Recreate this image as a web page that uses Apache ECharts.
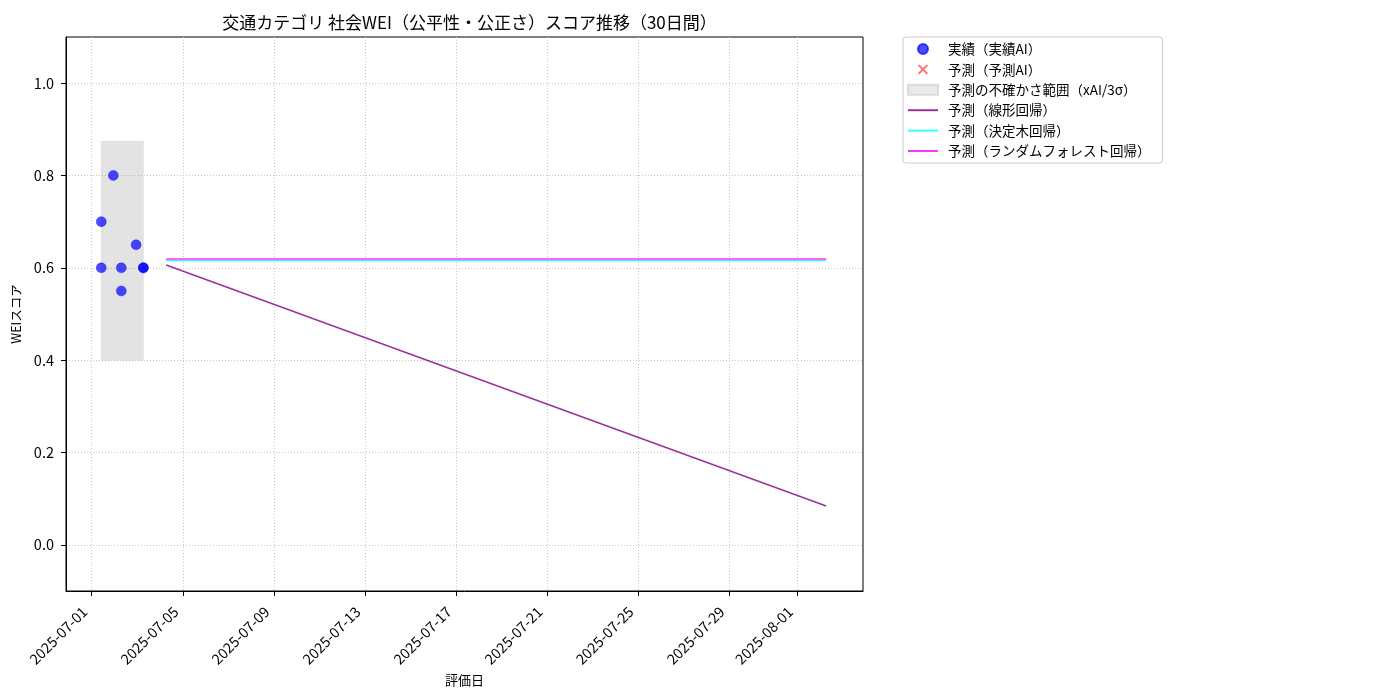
<!DOCTYPE html>
<html>
<head>
<meta charset="utf-8">
<script src="https://cdn.jsdelivr.net/npm/echarts@6/dist/echarts.min.js"></script>
<style>html,body{margin:0;padding:0;background:#fff}#c{width:1400px;height:700px}</style>
</head>
<body>
<div id="c"></div>
<script>
// ---- data ----
const actualDates = ['2025-07-01 10:05','2025-07-01 10:05','2025-07-01 22:48','2025-07-02 07:12','2025-07-02 07:12','2025-07-02 22:48','2025-07-03 06:29','2025-07-03 06:29'];
const actualScores = [0.70, 0.60, 0.80, 0.60, 0.55, 0.65, 0.60, 0.60];
const bandDates = ['2025-07-01 10:05','2025-07-03 06:29'];
const bandRange = [0.400, 0.874];
const forecastDates = ['2025-07-04 06:30','2025-08-02 06:30'];
const linearValues = [0.606, 0.084];
const treeValues = [0.616, 0.616];
const forestValues = [0.619, 0.619];
const predictAIDates = [];
const predictAIValues = [];
const xTickLabels = ['2025-07-01','2025-07-05','2025-07-09','2025-07-13','2025-07-17','2025-07-21','2025-07-25','2025-07-29','2025-08-01'];
const yTickValues = [0.0, 0.2, 0.4, 0.6, 0.8, 1.0];
const xRange = ['2025-06-29 20:53','2025-08-03 21:20'];
const yRange = [-0.1, 1.1];

const t = s => +new Date(s.length <= 10 ? s + 'T00:00' : s.replace(' ', 'T'));
const pad = n => (n < 10 ? '0' : '') + n;
const fmt = v => { const d = new Date(v); return d.getFullYear() + '-' + pad(d.getMonth() + 1) + '-' + pad(d.getDate()); };
const pairs = (ds, vs) => ds.map((d, i) => [t(d), vs[i]]);

const FONT = '"Noto Sans CJK JP", "Noto Sans", sans-serif';
const xTicks = xTickLabels.map(t);
const XPATH = 'path://M0,1.6 L1.6,0 L6,4.4 L10.4,0 L12,1.6 L7.6,6 L12,10.4 L10.4,12 L6,7.6 L1.6,12 L0,10.4 L4.4,6 Z';
const LINEICON = 'path://M0,0 M0,4 L30,4 L30,6 L0,6 Z M30,10';

const chart = echarts.init(document.getElementById('c'));
chart.setOption({
  animation: false,
  backgroundColor: '#fff',
  textStyle: { fontFamily: FONT, color: '#000' },
  title: {
    text: '交通カテゴリ 社会WEI（公平性・公正さ）スコア推移（30日間）',
    left: 464.5, textAlign: 'center', top: 9,
    textStyle: { fontFamily: FONT, fontSize: 17, fontWeight: 'normal', color: '#000' }
  },
  grid: { left: 66, top: 37, width: 797, height: 554, show: true, borderColor: '#000', borderWidth: 1, backgroundColor: 'transparent' },
  legend: {
    orient: 'vertical', left: 903, top: 37,
    padding: [5, 12, 5, 4],
    itemWidth: 30, itemHeight: 10, itemGap: 6.4,
    borderColor: '#cccccc', borderWidth: 1, borderRadius: 3,
    textStyle: { fontFamily: FONT, fontSize: 13.5, color: '#000', lineHeight: 14, padding: [0, 0, 0, 5] },
    data: [
      { name: '実績（実績AI）', icon: 'circle' },
      { name: '予測（予測AI）', icon: XPATH },
      { name: '予測の不確かさ範囲（xAI/3σ）', icon: 'rect' },
      { name: '予測（線形回帰）', icon: LINEICON },
      { name: '予測（決定木回帰）', icon: LINEICON },
      { name: '予測（ランダムフォレスト回帰）', icon: LINEICON }
    ]
  },
  xAxis: {
    type: 'value',
    min: t(xRange[0]), max: t(xRange[1]),
    name: '評価日', nameLocation: 'middle', nameGap: 74,
    nameTextStyle: { fontFamily: FONT, fontSize: 13, color: '#000' },
    axisLine: { onZero: false, lineStyle: { color: '#000', width: 1 } },
    axisTick: { show: true, length: 5, inside: false, lineStyle: { color: '#000' }, customValues: xTicks },
    axisLabel: { rotate: 45, margin: 11, padding: [0, 10, 0, 0], fontSize: 14.5, color: '#000', fontFamily: FONT, customValues: xTicks, formatter: v => fmt(v), hideOverlap: false },
    splitLine: { show: true, lineStyle: { color: '#c8c8c8', type: [1, 2], width: 1 } }
  },
  yAxis: {
    type: 'value',
    min: yRange[0], max: yRange[1],
    name: 'WEIスコア', nameLocation: 'middle', nameGap: 41,
    nameTextStyle: { fontFamily: FONT, fontSize: 12.5, color: '#000' },
    axisLine: { show: true, onZero: false, lineStyle: { color: '#000', width: 1 } },
    axisTick: { show: true, length: 5, inside: false, lineStyle: { color: '#000' }, customValues: yTickValues },
    axisLabel: { margin: 12, fontSize: 14.5, color: '#000', fontFamily: FONT, customValues: yTickValues, formatter: v => v.toFixed(1) },
    splitLine: { show: true, lineStyle: { color: '#c8c8c8', type: [1, 2], width: 1 } }
  },
  series: [
    {
      name: '予測の不確かさ範囲（xAI/3σ）', type: 'scatter', data: [], z: 1,
      itemStyle: { color: '#e3e3e3', borderColor: '#d6d6d6', borderWidth: 1 },
      markArea: {
        silent: true,
        itemStyle: { color: 'rgba(128,128,128,0.22)', borderColor: 'rgba(128,128,128,0.12)', borderWidth: 1 },
        data: [[{ xAxis: t(bandDates[0]), yAxis: bandRange[0] }, { xAxis: t(bandDates[1]), yAxis: bandRange[1] }]]
      }
    },
    {
      name: '予測（線形回帰）', type: 'line', symbol: 'none', z: 3,
      lineStyle: { color: 'rgba(128,0,128,0.8)', width: 1.6 }, itemStyle: { color: 'rgba(128,0,128,0.8)' },
      data: pairs(forecastDates, linearValues)
    },
    {
      name: '予測（決定木回帰）', type: 'line', symbol: 'none', z: 3,
      lineStyle: { color: 'rgba(0,255,255,0.8)', width: 1.6 }, itemStyle: { color: 'rgba(0,255,255,0.8)' },
      data: pairs(forecastDates, treeValues)
    },
    {
      name: '予測（ランダムフォレスト回帰）', type: 'line', symbol: 'none', z: 3,
      lineStyle: { color: 'rgba(255,0,255,0.8)', width: 1.6 }, itemStyle: { color: 'rgba(255,0,255,0.8)' },
      data: pairs(forecastDates, forestValues)
    },
    {
      name: '実績（実績AI）', type: 'scatter', symbol: 'circle', symbolSize: 10, z: 5,
      itemStyle: { color: 'rgba(0,0,255,0.7)', borderColor: 'rgba(0,0,255,0.7)', borderWidth: 0.5, opacity: 1 },
      data: pairs(actualDates, actualScores)
    },
    {
      name: '予測（予測AI）', type: 'scatter', z: 5,
      symbol: XPATH, symbolSize: 12,
      itemStyle: { color: 'rgba(255,30,30,0.8)' },
      data: pairs(predictAIDates, predictAIValues)
    }
  ]
});
</script>
</body>
</html>
